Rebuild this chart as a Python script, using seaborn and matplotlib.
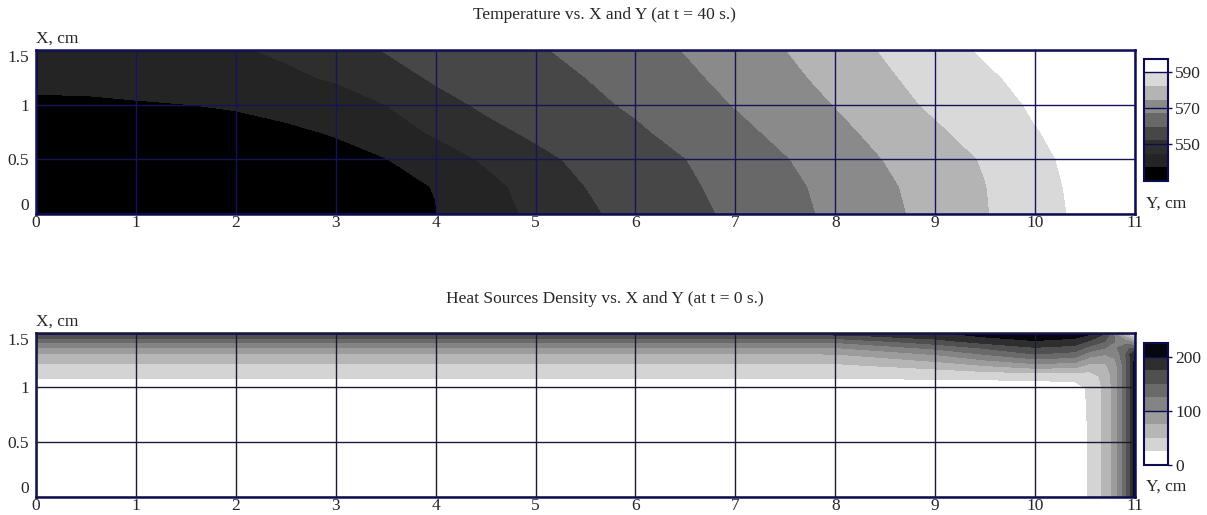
import numpy as np
import matplotlib
matplotlib.use('Agg')
import matplotlib.pyplot as plt
import seaborn as sns

temp_x = [0, 0.5, 1, 1.5, 2, 2.5, 3, 3.5, 4, 4.5, 5, 5.5, 6, 6.5, 7, 7.5, 8, 8.5, 9, 9.5, 10, 10.5, 11]
temp_y = [0, 0.25, 0.5, 0.75, 1.0, 1.25, 1.5]
temp_y000 = [532.0, 532.1, 532.3, 532.7, 533.2, 533.9, 534.7, 535.7, 536.9, 541.3, 546.0, 550.8,
             554.3, 557.4, 560.8, 564.6, 568.5, 572.6, 577.0, 581.5, 586.8, 591.0, 595.0]
temp_y025 = [532.3, 532.4, 532.6, 533.0, 533.6, 534.4, 535.3, 536.2, 537.1, 542.3, 547.2, 552.0,
             555.6, 558.5, 561.4, 565.2, 569.2, 573.3, 577.5, 581.8, 587.2, 591.3, 595.0]
temp_y050 = [533.0, 533.1, 533.3, 533.7, 534.2, 534.9, 535.8, 536.8, 540.8, 545.4, 550.1, 553.7,
             556.6, 559.4, 563.0, 566.6, 570.6, 574.7, 578.6, 582.6, 587.7, 592.0, 595.5]
temp_y075 = [534.3, 534.4, 534.6, 535.0, 535.6, 536.4, 537.3, 541.0, 545.5, 550.0, 553.3, 555.9,
             558.5, 561.6, 565.1, 568.8, 572.6, 576.7, 580.8, 585.0, 589.2, 591.8, 595.0]
temp_y100 = [536.1, 536.2, 536.6, 536.95, 537.4, 538.1, 540.5, 544.5, 549.5, 553.2, 555.5, 557.9,
             560.5, 563.9, 567.3, 571.0, 574.7, 579.1, 583.3, 586.9, 590.3, 592.5, 595.5]
temp_y125 = [538.5, 538.6, 539.0, 539.8, 541.0, 543.0, 545.5, 549.0, 553.0, 555.0, 557.3, 559.5,
             562.5, 565.6, 569.1, 572.7, 576.7, 581.0, 584.8, 588.5, 591.5, 593.5, 596.0]
temp_y150 = [541.3, 541.4, 541.8, 542.5, 543.8, 545.8, 548.6, 552.4, 554.5, 556.6, 558.7, 561.4,
             564.3, 567.3, 570.9, 574.4, 578.6, 582.6, 586.7, 590.3, 592.5, 594.5, 596.0]
temp_levels = [529.5, 537, 544.5, 552, 559.5, 567, 574.5, 582, 589.5, 597]
temp_ticks = [550, 570, 590]

# ---- Heat sources density at t = 0 s ----
heat_x = [0, 1, 2, 3, 4, 5, 6, 7, 8, 9, 9.5, 10, 10.4, 10.55, 10.7, 10.8, 10.9, 10.95, 11]
heat_y = [0, 0.5, 1.0, 1.1, 1.2, 1.3, 1.36, 1.42, 1.47, 1.5]
heat_y000 = [0, 0, 0, 0, 0, 0, 0, 0, 0, 0, 1, 3, 12, 27, 56, 87, 137, 171, 214]
heat_y050 = [1, 1, 1, 1, 1, 1, 1, 1, 1, 1, 2, 3, 12, 27, 56, 87, 137, 171, 214]
heat_y100 = [16, 16, 16, 16, 16, 16, 16, 16, 16, 16, 16, 16, 18, 28, 56, 87, 137, 171, 214]
heat_y110 = [27, 27, 27, 27, 27, 27, 27, 27, 27, 28, 29, 30, 32, 38, 58, 87, 137, 171, 214]
heat_y120 = [44, 44, 44, 44, 44, 44, 44, 44, 45, 60, 75, 90, 85, 65, 70, 90, 137, 171, 214]
heat_y130 = [71, 71, 71, 71, 71, 71, 71, 71, 73, 100, 124, 148, 138, 110, 100, 105, 145, 175, 200]
heat_y136 = [96, 96, 96, 96, 96, 96, 96, 96, 98, 130, 152, 172, 165, 140, 125, 120, 140, 150, 150]
heat_y142 = [128, 128, 128, 128, 128, 128, 128, 128, 130, 165, 185, 198, 190, 170, 150, 125, 110, 100, 80]
heat_y147 = [164, 164, 164, 164, 164, 164, 164, 164, 168, 188, 203, 210, 207, 195, 165, 120, 70, 50, 30]
heat_y150 = [189, 189, 189, 189, 189, 189, 189, 189, 192, 198, 210, 218, 214, 205, 175, 120, 40, 25, 10]
heat_levels = [0, 25, 50, 75, 100, 125, 150, 175, 200, 225]
heat_ticks = [0, 100, 200]

x_ticks = list(range(0, 12))
y_ticks = [0, 0.5, 1.0, 1.5]
y_ticklabels = ['0', '0.5', '1', '1.5']

temp_colors = ['#000000', '#242424', '#2e2e2e', '#474747', '#686868', '#8a8a8a',
               '#b4b4b4', '#d9d9d9', '#ffffff']
heat_colors = ['#ffffff', '#d4d4d4', '#b6b6b6', '#9c9c9c', '#848484', '#6a6a6a',
               '#505050', '#2e2e2e', '#07070f']

sns.set_style('white')
plt.rcParams['font.family'] = ['Liberation Serif', 'DejaVu Serif']
fs = 12.5

navy = '#0c0c52'

fig = plt.figure(figsize=(12.07, 5.15), dpi=100)
ax1 = fig.add_axes([0.0298, 0.5845, 0.9105, 0.3184])
ax2 = fig.add_axes([0.0298, 0.0350, 0.9105, 0.3190])
cax1 = fig.add_axes([0.9478, 0.6485, 0.0199, 0.2369])
cax2 = fig.add_axes([0.9478, 0.0971, 0.0199, 0.2363])

temp_z = np.array([temp_y000, temp_y025, temp_y050, temp_y075, temp_y100, temp_y125, temp_y150])
heat_z = np.array([heat_y000, heat_y050, heat_y100, heat_y110, heat_y120, heat_y130,
                   heat_y136, heat_y142, heat_y147, heat_y150])

panels = [
    (ax1, cax1, temp_x, temp_y, temp_z, temp_levels, temp_colors, temp_ticks,
     'Temperature vs. X and Y (at t = 40 s.)', 0.971, '#14145a'),
    (ax2, cax2, heat_x, heat_y, heat_z, heat_levels, heat_colors, heat_ticks,
     'Heat Sources Density vs. X and Y (at t = 0 s.)', 0.419, '#1a1a36'),
]

for ax, cax, xs, ys, z, levels, colors, ticks, title, ty, gcol in panels:
    cs = ax.contourf(xs, ys, z, levels=levels, colors=colors)
    ax.set_xlim(0, 11)
    ax.set_ylim(0, 1.5)
    ax.set_xticks(x_ticks)
    ax.set_yticks(y_ticks)
    ylabs = ax.set_yticklabels(y_ticklabels)
    ylabs[0].set_va('bottom')
    ylabs[-1].set_va('top')
    ax.tick_params(length=0, labelsize=fs)
    ax.tick_params(axis='y', pad=5)
    ax.tick_params(axis='x', pad=1)
    ax.grid(True, color=gcol, lw=1.0)
    ax.set_axisbelow(False)
    for sp in ax.spines.values():
        sp.set_color(navy)
        sp.set_linewidth(1.8)
    ax.text(0, 1.02, 'X, cm', transform=ax.transAxes, ha='left', va='bottom', fontsize=fs)
    ax.text(1.010, 0.065, 'Y, cm', transform=ax.transAxes, ha='left', va='center', fontsize=fs)
    fig.text(0.501, ty, title, ha='center', va='center', fontsize=fs)

    cb = fig.colorbar(cs, cax=cax, ticks=ticks)
    cb.outline.set_edgecolor(navy)
    cb.outline.set_linewidth(1.5)
    for t in ticks:
        cax.axhline(t, color=navy, lw=1.0)
    cax.tick_params(length=3, width=1, color=navy, pad=2, labelsize=fs)

fig.savefig('out.png', dpi=100)
